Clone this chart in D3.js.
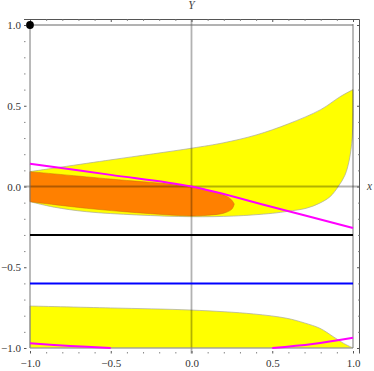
<!DOCTYPE html>
<html>
<head>
<meta charset="UTF-8">
<title>Region plot</title>
<style>
body { margin: 0; background: #fff; }
svg { display: block; }
.axlabel { font-family: "Liberation Serif", serif; font-style: italic; font-size: 11.5px; fill: #444; }
</style>
</head>
<body>
<div id="vis"></div>
<script src="https://d3js.org/d3.v7.min.js"></script>
<script>
// values
var majorTicks = [-1, -0.5, 0, 0.5, 1];
var majorLabels = ["\u22121.0", "\u22120.5", "0.0", "0.5", "1.0"];
var minorTicks = [-0.9, -0.8, -0.7, -0.6, -0.4, -0.3, -0.2, -0.1, 0.1, 0.2, 0.3, 0.4, 0.6, 0.7, 0.8, 0.9];

// upper yellow region: top edge left->right, then right edge and bottom edge back to the left
var upperYellowTop = [[-1, 0.092], [-0.5, 0.165], [0, 0.237], [0.2, 0.271], [0.4, 0.319], [0.6, 0.388], [0.8, 0.476], [0.92, 0.556], [1, 0.6]];
var upperYellowBottom = [[1, 0.6], [1, 0.45], [0.995, 0.3], [0.977, 0.164], [0.95, 0.07], [0.909, 0], [0.858, -0.063], [0.79, -0.105], [0.71, -0.135], [0.6, -0.153], [0.5, -0.166], [0.26, -0.183], [0, -0.187], [-0.34, -0.176], [-0.65, -0.156], [-0.85, -0.128], [-1, -0.094]];

// orange region
var orangeTop = [[-1, 0.092], [-0.5, 0.046], [0, 0], [0.1, -0.022], [0.2, -0.053], [0.245, -0.08], [0.265, -0.108]];
var orangeBottom = [[0.265, -0.108], [0.25, -0.14], [0.2, -0.165], [0.1, -0.178], [0, -0.182], [-0.34, -0.162], [-0.65, -0.135], [-1, -0.094]];

// lower yellow region top edge (bottom is y = -1)
var lowerYellowTop = [[-1, -0.74], [-0.5, -0.752], [0, -0.765], [0.383, -0.789], [0.59, -0.816], [0.7, -0.845], [0.795, -0.878], [0.878, -0.93], [0.94, -0.97], [1, -1]];

// magenta curves
var magentaUpper = [[-1, 0.141], [-0.5, 0.072], [0, 0], [0.5, -0.127], [1, -0.257]];
var magentaLowerLeft = [[-1, -0.971], [-0.75, -0.987], [-0.5, -1]];
var magentaLowerRight = [[0.5, -1], [0.75, -0.975], [1, -0.936]];

// horizontal lines and the point
var blackLevel = -0.3;
var blueLevel = -0.6;
var dotPoint = [-1, 1];

var width = 374, height = 371;
var frameL = 24, frameR = 359.5, frameT = 19.5, frameB = 353.5;

var svg = d3.select("#vis").append("svg")
	.attr("width", width)
	.attr("height", height);

var x = d3.scaleLinear().domain([-1, 1]).range([30, 353]);
var y = d3.scaleLinear().domain([-1, 1]).range([348, 25]);

var smooth = d3.line().x(function(d) { return x(d[0]); }).y(function(d) { return y(d[1]); }).curve(d3.curveCatmullRom);

// yellow regions
svg.append("path")
	.attr("d", smooth(upperYellowTop) + smooth(upperYellowBottom).replace(/^M/, "L") + "Z")
	.attr("fill", "#ffff00")
	.attr("stroke", "#a8a8a0")
	.attr("stroke-width", 0.7);

svg.append("path")
	.attr("d", smooth(lowerYellowTop) + "L" + x(-1) + "," + y(-1) + "Z")
	.attr("fill", "#ffff00")
	.attr("stroke", "#a8a8a0")
	.attr("stroke-width", 0.7);

// orange region
svg.append("path")
	.attr("d", smooth(orangeTop) + smooth(orangeBottom).replace(/^M/, "L") + "Z")
	.attr("fill", "#ff8000")
	.attr("stroke", "#c86a10")
	.attr("stroke-width", 0.5);

// axes through origin
svg.append("line")
	.attr("x1", frameL).attr("x2", 360)
	.attr("y1", y(0)).attr("y2", y(0))
	.attr("stroke", "#000").attr("stroke-opacity", 0.3).attr("stroke-width", 1.8);
svg.append("line")
	.attr("x1", x(0)).attr("x2", x(0))
	.attr("y1", frameT).attr("y2", frameB)
	.attr("stroke", "#000").attr("stroke-opacity", 0.3).attr("stroke-width", 1.8);

// region box
svg.append("line")
	.attr("x1", x(1)).attr("x2", x(1)).attr("y1", y(1) - 1).attr("y2", y(-1))
	.attr("stroke", "#000").attr("stroke-opacity", 0.3).attr("stroke-width", 1.8);
svg.append("line")
	.attr("x1", x(-1)).attr("x2", x(-1)).attr("y1", y(1)).attr("y2", y(-1))
	.attr("stroke", "#777").attr("stroke-width", 1);
svg.append("line")
	.attr("x1", x(-1)).attr("x2", x(1)).attr("y1", y(1)).attr("y2", y(1))
	.attr("stroke", "#666").attr("stroke-width", 1);
svg.append("line")
	.attr("x1", x(-1)).attr("x2", x(1)).attr("y1", y(-1)).attr("y2", y(-1))
	.attr("stroke", "#999").attr("stroke-width", 1);

// horizontal lines
svg.append("line")
	.attr("x1", x(-1)).attr("x2", x(1)).attr("y1", y(blackLevel)).attr("y2", y(blackLevel))
	.attr("stroke", "#000").attr("stroke-width", 2);
svg.append("line")
	.attr("x1", x(-1)).attr("x2", x(1)).attr("y1", y(blueLevel)).attr("y2", y(blueLevel))
	.attr("stroke", "#0000ff").attr("stroke-width", 2);

// magenta curves
[magentaUpper, magentaLowerLeft, magentaLowerRight].forEach(function(c) {
	svg.append("path")
		.attr("d", smooth(c))
		.attr("fill", "none")
		.attr("stroke", "#ff00ff")
		.attr("stroke-width", 2);
});

// frame (top and right drawn)
svg.append("path")
	.attr("d", "M" + frameL + "," + frameT + "H" + frameR + "V" + frameB)
	.attr("fill", "none")
	.attr("stroke", "#555")
	.attr("stroke-width", 1);

// ticks
function addAxis(axisFn, scale, tx, ty, labels) {
	var major = axisFn(scale).tickValues(majorTicks).tickSize(-2.5)
		.tickFormat(function(d, i) { return labels ? majorLabels[i] : ""; });
	var g = svg.append("g").attr("transform", "translate(" + tx + "," + ty + ")").call(major)
		.attr("font-family", "'Liberation Serif', 'DejaVu Serif', serif")
		.attr("font-size", 11);
	g.select(".domain").remove();
	g.selectAll(".tick line").attr("stroke", "#555");
	g.selectAll(".tick text").attr("fill", "#333");
	var minor = axisFn(scale).tickValues(minorTicks).tickSize(-1.5).tickFormat("");
	var gm = svg.append("g").attr("transform", "translate(" + tx + "," + ty + ")").call(minor);
	gm.select(".domain").remove();
	gm.selectAll(".tick line").attr("stroke", "#888");
	return g;
}
addAxis(d3.axisLeft, y, frameL, 0, true).call(function(g) { g.selectAll(".tick text").attr("x", -3); });
addAxis(d3.axisBottom, x, 0, frameB, true).call(function(g) { g.selectAll(".tick text").attr("y", 6); });
addAxis(d3.axisTop, x, 0, frameT, false);
addAxis(d3.axisRight, y, frameR, 0, false);

// axis labels
svg.append("text").attr("class", "axlabel")
	.attr("x", x(0)).attr("y", 9).attr("text-anchor", "middle").text("Y");
svg.append("text").attr("class", "axlabel")
	.attr("x", 367).attr("y", y(0) + 3.5).text("x");

// point
svg.append("circle")
	.attr("cx", x(dotPoint[0])).attr("cy", y(dotPoint[1]))
	.attr("r", 3.9)
	.attr("fill", "#000");
</script>
</body>
</html>
